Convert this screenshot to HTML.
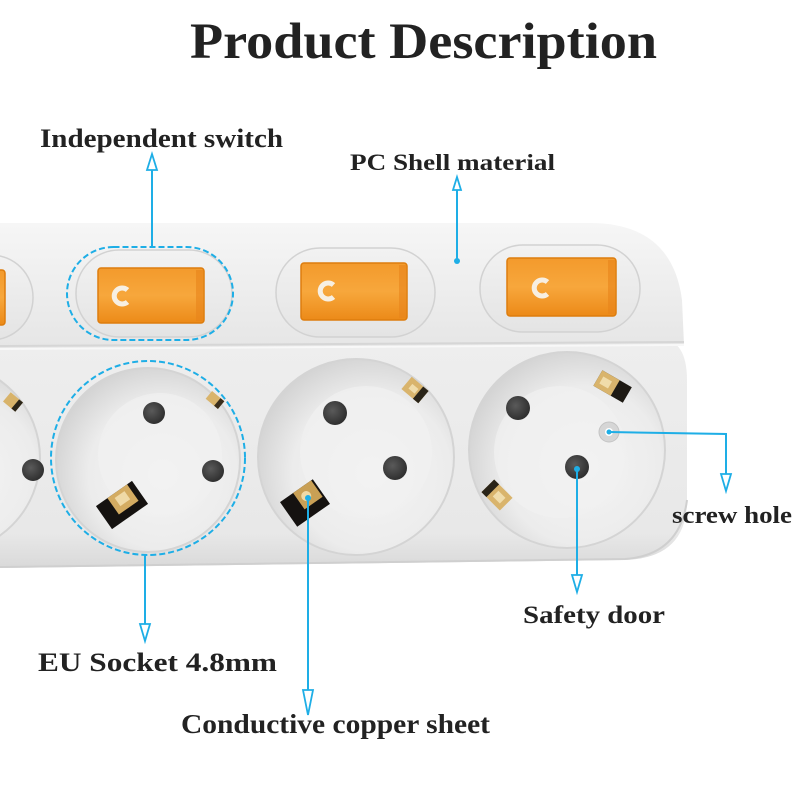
<!DOCTYPE html>
<html><head><meta charset="utf-8"><style>
html,body{margin:0;padding:0;background:#fff;}
svg{display:block;}
text{font-family:"Liberation Serif",serif;fill:#222;font-weight:bold;}
</style></head><body>
<svg width="800" height="800" viewBox="0 0 800 800" xmlns="http://www.w3.org/2000/svg">
<defs>
  <linearGradient id="bodyTop" x1="0" y1="0" x2="0" y2="1">
    <stop offset="0" stop-color="#f6f6f6"/>
    <stop offset="0.5" stop-color="#eeeeee"/>
    <stop offset="1" stop-color="#e6e6e6"/>
  </linearGradient>
  <linearGradient id="bodyLow" x1="0" y1="0" x2="0" y2="1">
    <stop offset="0" stop-color="#eeeeee"/>
    <stop offset="0.85" stop-color="#e8e8e8"/>
    <stop offset="1" stop-color="#d9d9d9"/>
  </linearGradient>
  <radialGradient id="sock" cx="0.58" cy="0.58" r="0.62">
    <stop offset="0" stop-color="#f4f4f4"/>
    <stop offset="0.65" stop-color="#ececec"/>
    <stop offset="1" stop-color="#d2d2d2"/>
  </radialGradient>
  <linearGradient id="bez" x1="0" y1="0" x2="0" y2="1">
    <stop offset="0" stop-color="#f2f2f2"/>
    <stop offset="1" stop-color="#e4e4e4"/>
  </linearGradient>
  <linearGradient id="org" x1="0" y1="0" x2="0" y2="1">
    <stop offset="0" stop-color="#f39a2c"/>
    <stop offset="0.5" stop-color="#f7a73c"/>
    <stop offset="1" stop-color="#ec8a18"/>
  </linearGradient>
  <radialGradient id="hole" cx="0.4" cy="0.4" r="0.6">
    <stop offset="0" stop-color="#5a5a5a"/>
    <stop offset="1" stop-color="#303030"/>
  </radialGradient>
</defs>

<!-- Title -->
<text x="190" y="58" font-size="51" textLength="467" lengthAdjust="spacingAndGlyphs">Product Description</text>

<!-- Body lower panel -->
<path d="M0,338 L660,338 Q687,340 687,380 L687,500 Q687,558 625,560 L0,568 Z" fill="url(#bodyLow)"/>
<!-- Body upper panel -->
<path d="M0,223 L590,223 Q672,223 682,300 L684,345 L0,348 Z" fill="url(#bodyTop)"/>
<path d="M0,346 L684,342" stroke="#d6d6d6" stroke-width="2" fill="none"/>
<path d="M0,349 L684,345" stroke="#f8f8f8" stroke-width="2" fill="none"/>
<path d="M0,567 L625,559 Q680,555 687,500" stroke="#cfcfcf" stroke-width="2" fill="none"/>

<!-- Switch bezels -->
<rect x="-120" y="255" width="153" height="85" rx="42" fill="url(#bez)" stroke="#d2d2d2" stroke-width="1.5"/>
<rect x="76" y="250" width="156" height="87" rx="43" fill="url(#bez)" stroke="#d2d2d2" stroke-width="1.5"/>
<rect x="276" y="248" width="159" height="89" rx="44" fill="url(#bez)" stroke="#d2d2d2" stroke-width="1.5"/>
<rect x="480" y="245" width="160" height="87" rx="43" fill="url(#bez)" stroke="#d2d2d2" stroke-width="1.5"/>

<!-- Rockers -->
<rect x="-100" y="270" width="105" height="55" rx="3" fill="url(#org)" stroke="#dd7d0e" stroke-width="1.5"/>
<rect x="98" y="268" width="106" height="55" rx="3" fill="url(#org)" stroke="#dd7d0e" stroke-width="1.5"/>
<rect x="301" y="263" width="106" height="57" rx="3" fill="url(#org)" stroke="#dd7d0e" stroke-width="1.5"/>
<rect x="507" y="258" width="109" height="58" rx="3" fill="url(#org)" stroke="#dd7d0e" stroke-width="1.5"/>
<rect x="196" y="270" width="7" height="51" fill="#e8841a" opacity="0.6"/>
<rect x="399" y="265" width="7" height="53" fill="#e8841a" opacity="0.6"/>
<rect x="608" y="260" width="7" height="54" fill="#e8841a" opacity="0.6"/>
<g fill="none" stroke="#f7efe2" stroke-width="5" stroke-linecap="butt">
  <path d="M127.5,290 A8,8 0 1 0 127.5,302"/>
  <path d="M333.5,285 A8,8 0 1 0 333.5,297"/>
  <path d="M547.5,282 A8,8 0 1 0 547.5,294"/>
</g>

<!-- Sockets -->
<circle cx="-55" cy="458" r="95" fill="url(#sock)" stroke="#d4d4d4" stroke-width="2"/>
<circle cx="148" cy="460" r="92" fill="url(#sock)" stroke="#d4d4d4" stroke-width="2"/>
<circle cx="356" cy="457" r="98" fill="url(#sock)" stroke="#d4d4d4" stroke-width="2"/>
<circle cx="567" cy="450" r="98" fill="url(#sock)" stroke="#d4d4d4" stroke-width="2"/>
<circle cx="160" cy="455" r="62" fill="#f1f1f1" opacity="0.7"/>
<circle cx="366" cy="452" r="66" fill="#f1f1f1" opacity="0.7"/>
<circle cx="560" cy="452" r="66" fill="#f1f1f1" opacity="0.7"/>

<!-- Holes -->
<g fill="url(#hole)">
  <circle cx="33" cy="470" r="11"/>
  <circle cx="154" cy="413" r="11"/>
  <circle cx="213" cy="471" r="11"/>
  <circle cx="335" cy="413" r="12"/>
  <circle cx="395" cy="468" r="12"/>
  <circle cx="518" cy="408" r="12"/>
  <circle cx="577" cy="467" r="12"/>
</g>
<circle cx="609" cy="432" r="10" fill="#d6d6d6" stroke="#c4c4c4" stroke-width="1"/>
<circle cx="609" cy="432" r="4" fill="#fff"/>

<!-- Copper clips -->
<g>
  <g transform="translate(13,402) rotate(40)"><rect x="-8" y="-6" width="16" height="12" fill="#d8b36a"/><rect x="3" y="-6" width="5" height="12" fill="#2a2418"/></g>
  <g transform="translate(215,400) rotate(40)"><rect x="-8" y="-5" width="16" height="10" fill="#d9b46c"/><rect x="3" y="-5" width="5" height="10" fill="#3a2e1c"/></g>
  <g transform="translate(122,505) rotate(-35)"><rect x="-22" y="-14" width="44" height="28" fill="#151210"/><rect x="-8" y="-14" width="24" height="20" fill="#d4ac62"/><rect x="-2" y="-10" width="12" height="10" fill="#efd9a6"/></g>
  <g transform="translate(415,390) rotate(40)"><rect x="-11" y="-8" width="22" height="16" fill="#d9b46c"/><rect x="4" y="-8" width="7" height="16" fill="#2a2418"/><rect x="-6" y="-3" width="8" height="6" fill="#f0dcaa"/></g>
  <g transform="translate(305,503) rotate(-35)"><rect x="-20" y="-15" width="40" height="30" fill="#151210"/><rect x="-4" y="-15" width="22" height="20" fill="#c9a055"/><circle cx="5" cy="-5" r="5" fill="#efd9a6"/></g>
  <g transform="translate(610,385) rotate(30)"><rect x="-14" y="-9" width="34" height="18" fill="#1e1a14"/><rect x="-14" y="-9" width="20" height="18" fill="#d9b46c"/><rect x="-10" y="-4" width="10" height="8" fill="#f0dcaa"/></g>
  <g transform="translate(497,495) rotate(45)"><rect x="-13" y="-9" width="26" height="18" fill="#d9b46c"/><rect x="-13" y="-9" width="7" height="18" fill="#2a2418"/><rect x="-2" y="-4" width="10" height="8" fill="#f0dcaa"/></g>
</g>

<!-- Dashed highlights -->
<rect x="67" y="247" width="166" height="93" rx="46.5" fill="none" stroke="#1eaee6" stroke-width="2" stroke-dasharray="6,3"/>
<circle cx="148" cy="458" r="97" fill="none" stroke="#1eaee6" stroke-width="2" stroke-dasharray="6,3"/>

<!-- Connectors -->
<g stroke="#1eaee6" stroke-width="2" fill="none">
  <line x1="152" y1="247" x2="152" y2="170"/>
  <line x1="457" y1="261" x2="457" y2="190"/>
  <polyline points="609,432 726,434 726,474"/>
  <line x1="577" y1="469" x2="577" y2="575"/>
  <line x1="145" y1="555" x2="145" y2="624"/>
  <line x1="308" y1="498" x2="308" y2="690"/>
</g>
<g stroke="#1eaee6" stroke-width="1.8" fill="#fff">
  <polygon points="152,154 147,170 157,170"/>
  <polygon points="457,177 453,190 461,190"/>
  <polygon points="726,491 721,474 731,474"/>
  <polygon points="577,592 572,575 582,575"/>
  <polygon points="145,641 140,624 150,624"/>
  <polygon points="308,715 303,690 313,690"/>
</g>
<g fill="#1eaee6">
  <circle cx="457" cy="261" r="3"/>
  <circle cx="609" cy="432" r="2.5"/>
  <circle cx="577" cy="469" r="3"/>
  <circle cx="308" cy="498" r="3"/>
</g>

<!-- Labels -->
<text x="40" y="147" font-size="26" textLength="243" lengthAdjust="spacingAndGlyphs">Independent switch</text>
<text x="350" y="170" font-size="23" textLength="205" lengthAdjust="spacingAndGlyphs">PC Shell material</text>
<text x="672" y="523" font-size="24" textLength="120" lengthAdjust="spacingAndGlyphs">screw hole</text>
<text x="523" y="623" font-size="25" textLength="142" lengthAdjust="spacingAndGlyphs">Safety door</text>
<text x="38" y="671" font-size="26" textLength="239" lengthAdjust="spacingAndGlyphs">EU Socket 4.8mm</text>
<text x="181" y="733" font-size="27" textLength="309" lengthAdjust="spacingAndGlyphs">Conductive copper sheet</text>
</svg>
</body></html>
